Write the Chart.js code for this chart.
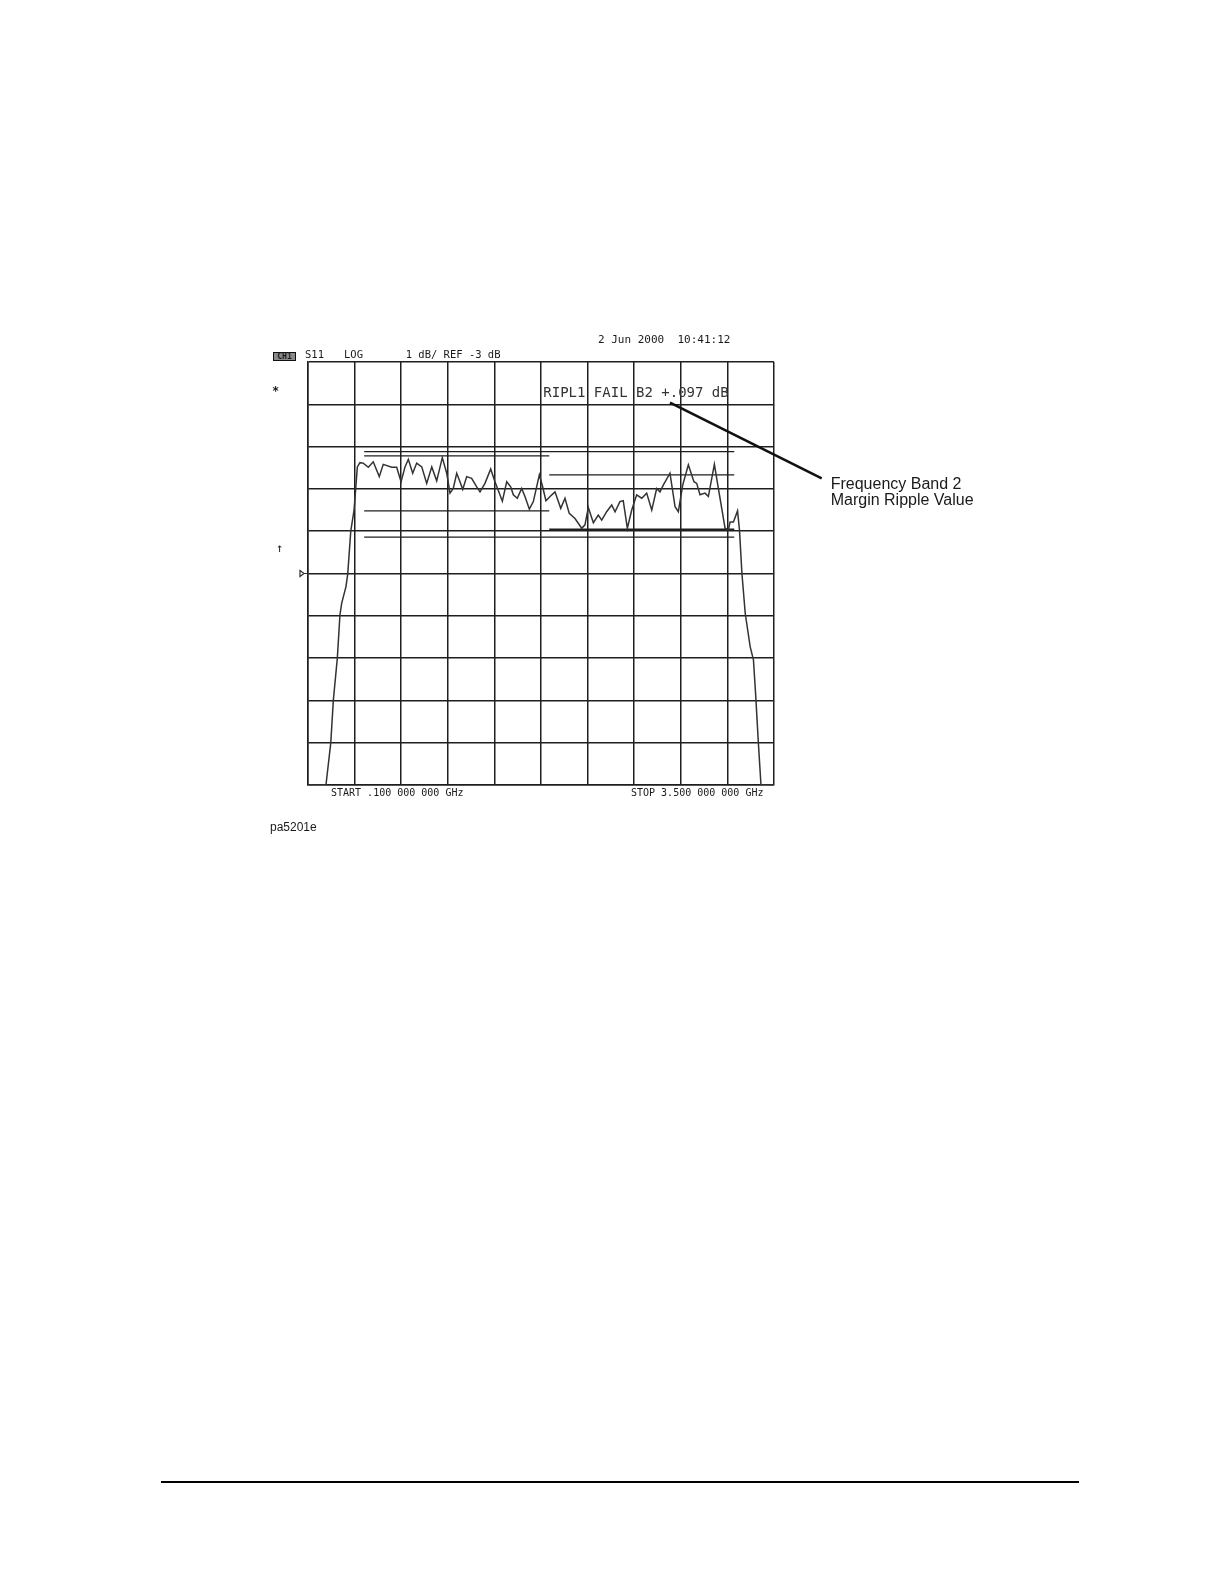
<!DOCTYPE html>
<html>
<head>
<meta charset="utf-8">
<script src="https://cdn.jsdelivr.net/npm/chart.js@4/dist/chart.umd.min.js"></script>
<style>
  body { margin: 0; background: #fff; }
  #page { position: relative; width: 1224px; height: 1582px; overflow: hidden; }
  #page canvas { position: absolute; left: 0; top: 0; }
  .t { position: absolute; line-height: 1; white-space: pre; color: #1a1a1a; }
  .mono { font-family: "DejaVu Sans Mono", "Liberation Mono", monospace; }
  .sans { font-family: "Liberation Sans", Arial, sans-serif; }
</style>
</head>
<body>
<div id="page">
  <canvas id="s11Chart" width="1224" height="1582"></canvas>

  <div class="t mono" style="left:598px; top:333.6px; font-size:11px;">2 Jun 2000  10:41:12</div>
  <div class="t mono" style="left:273px; top:351.5px; width:21px; height:7px; border:1px solid #111; background:#8a8a8a; font-size:8px; line-height:7px; text-align:center; font-weight:bold;">CH1</div>
  <div class="t mono" style="left:305px; top:349.1px; font-size:10.5px;">S11</div>
  <div class="t mono" style="left:344px; top:349.1px; font-size:10.5px;">LOG</div>
  <div class="t mono" style="left:405.7px; top:349.1px; font-size:10.5px;">1 dB/ REF -3 dB</div>
  <div class="t mono" style="left:543.3px; top:385.1px; font-size:14px; color:#333;">RIPL1 FAIL B2 +.097 dB</div>
  <div class="t mono" style="left:272px; top:385px; font-size:12px; font-weight:bold;">*</div>
  <div class="t mono" style="left:276px; top:542px; font-size:12px;">↑</div>
  <div class="t mono" style="left:331px; top:787.5px; font-size:10px;">START .100 000 000 GHz</div>
  <div class="t mono" style="left:631px; top:787.5px; font-size:10px;">STOP 3.500 000 000 GHz</div>
  <div class="t sans" style="left:270px; top:820.8px; font-size:12px;">pa5201e</div>
  <div class="t sans" style="left:830.7px; top:476.4px; font-size:16px; line-height:15.5px;">Frequency Band 2
Margin Ripple Value</div>
  <div style="position:absolute; left:160.7px; top:1480.7px; width:918px; height:2px; background:#000;"></div>
</div>

<script>
// trace: S11 log mag, GHz / dB
const traceFreq = [
  0.100, 0.231, 0.266, 0.285, 0.314, 0.333, 0.346, 0.377, 0.390, 0.412,
  0.436, 0.448, 0.460, 0.479, 0.503, 0.540, 0.576, 0.620, 0.649, 0.711,
  0.747, 0.779, 0.808, 0.832, 0.864, 0.893, 0.930, 0.966, 1.003, 1.039,
  1.080, 1.112, 1.136, 1.160, 1.185, 1.204, 1.229, 1.258, 1.294, 1.331,
  1.355, 1.391, 1.433, 1.464, 1.488, 1.518, 1.550, 1.579, 1.598, 1.627,
  1.659, 1.683, 1.715, 1.744, 1.788, 1.812, 1.836, 1.866, 1.902, 1.944,
  1.975, 2.006, 2.048, 2.097, 2.121, 2.145, 2.182, 2.218, 2.243, 2.279,
  2.316, 2.340, 2.376, 2.400, 2.430, 2.462, 2.498, 2.535, 2.571, 2.608,
  2.644, 2.668, 2.692, 2.741, 2.778, 2.802, 2.834, 2.875, 2.916, 2.936,
  2.960, 2.997, 3.021, 3.065, 3.094, 3.143, 3.167, 3.180, 3.204, 3.234,
  3.248, 3.266, 3.290, 3.326, 3.350, 3.367, 3.386, 3.405, 3.500
];
const traceDb = [
  -8.00, -8.00, -7.01, -5.99, -5.00, -3.98, -3.70, -3.31, -3.01, -2.00,
  -1.50, -1.00, -0.48, -0.38, -0.39, -0.49, -0.36, -0.71, -0.42, -0.49,
  -0.49, -0.83, -0.48, -0.30, -0.63, -0.39, -0.48, -0.87, -0.48, -0.81,
  -0.26, -0.63, -1.10, -0.99, -0.63, -0.79, -1.01, -0.71, -0.75, -0.95,
  -1.07, -0.87, -0.53, -0.83, -1.03, -1.29, -0.83, -0.95, -1.14, -1.22,
  -0.99, -1.18, -1.48, -1.30, -0.67, -0.95, -1.28, -1.18, -1.07, -1.46,
  -1.22, -1.58, -1.70, -1.93, -1.85, -1.44, -1.80, -1.62, -1.74, -1.54,
  -1.38, -1.54, -1.30, -1.28, -1.93, -1.50, -1.14, -1.22, -1.10, -1.50,
  -0.99, -1.07, -0.91, -0.63, -1.42, -1.54, -0.91, -0.43, -0.83, -0.87,
  -1.14, -1.10, -1.18, -0.42, -0.99, -1.93, -1.97, -1.78, -1.78, -1.52,
  -1.97, -3.00, -3.94, -4.73, -5.04, -5.91, -7.01, -8.00, -8.00
];

// ripple limit segments (overall, band 1, band 2)
const limitStart = [0.51, 0.51, 0.51, 0.51, 1.86, 1.86];
const limitStop  = [3.21, 3.21, 1.86, 1.86, 3.21, 3.21];
const limitDb    = [-0.12, -2.14, -0.22, -1.52, -0.67, -1.96];

// axis: START .1 / STOP 3.5 GHz, 10 div; 1 dB/div, REF -3 dB at centre
const startGHz = 0.1, stopGHz = 3.5;
const gridFreq = [0.10, 0.44, 0.78, 1.12, 1.46, 1.80, 2.14, 2.48, 2.82, 3.16, 3.50];
const refLevel = -3, dbMin = -8, dbMax = 2;

const ink = '#1e1e1e';

const datasets = [{
  data: traceFreq.map((f, i) => ({ x: f, y: traceDb[i] })),
  borderColor: '#333',
  borderWidth: 1.5,
  pointRadius: 0,
  tension: 0
}];
limitDb.forEach((db, i) => {
  datasets.push({
    data: [{ x: limitStart[i], y: db }, { x: limitStop[i], y: db }],
    borderColor: '#1e1e1e',
    borderWidth: i === 5 ? 1.8 : 1.3,
    pointRadius: 0
  });
});

// pointer + reference marker, drawn over the chart
const extras = {
  id: 'extras',
  afterDraw(chart) {
    const ctx = chart.ctx;
    const y = chart.scales.y;
    const a = chart.chartArea;
    ctx.save();
    // ref position marker
    const ry = y.getPixelForValue(refLevel);
    ctx.strokeStyle = '#333';
    ctx.lineWidth = 1.2;
    ctx.beginPath();
    ctx.moveTo(a.left - 8, ry - 3);
    ctx.lineTo(a.left - 4, ry);
    ctx.lineTo(a.left - 8, ry + 3);
    ctx.closePath();
    ctx.moveTo(a.left - 4, ry);
    ctx.lineTo(a.left, ry);
    ctx.stroke();
    // annotation pointer
    ctx.strokeStyle = '#111';
    ctx.lineWidth = 2.6;
    ctx.beginPath();
    ctx.moveTo(670, 402.7);
    ctx.lineTo(821.7, 478.3);
    ctx.stroke();
    ctx.restore();
  }
};

const config = {
  type: 'line',
  data: { datasets: datasets },
  options: {
    responsive: false,
    animation: false,
    layout: { padding: { left: 308, top: 362, right: 450, bottom: 797 } },
    plugins: { legend: { display: false }, tooltip: { enabled: false } },
    scales: {
      x: {
        type: 'linear',
        min: startGHz,
        max: stopGHz,
        afterBuildTicks: (s) => { s.ticks = gridFreq.map(v => ({ value: v })); },
        ticks: { display: false },
        grid: { color: ink, lineWidth: 1.5, drawTicks: false },
        border: { display: true, color: ink, width: 1.5 }
      },
      y: {
        type: 'linear',
        min: dbMin,
        max: dbMax,
        ticks: { display: false, stepSize: 1 },
        grid: { color: ink, lineWidth: 1.5, drawTicks: false },
        border: { display: true, color: ink, width: 1.5 }
      }
    }
  },
  plugins: [extras]
};

const s11Chart = new Chart(
  document.getElementById('s11Chart').getContext('2d'),
  config
);
</script>
</body>
</html>
